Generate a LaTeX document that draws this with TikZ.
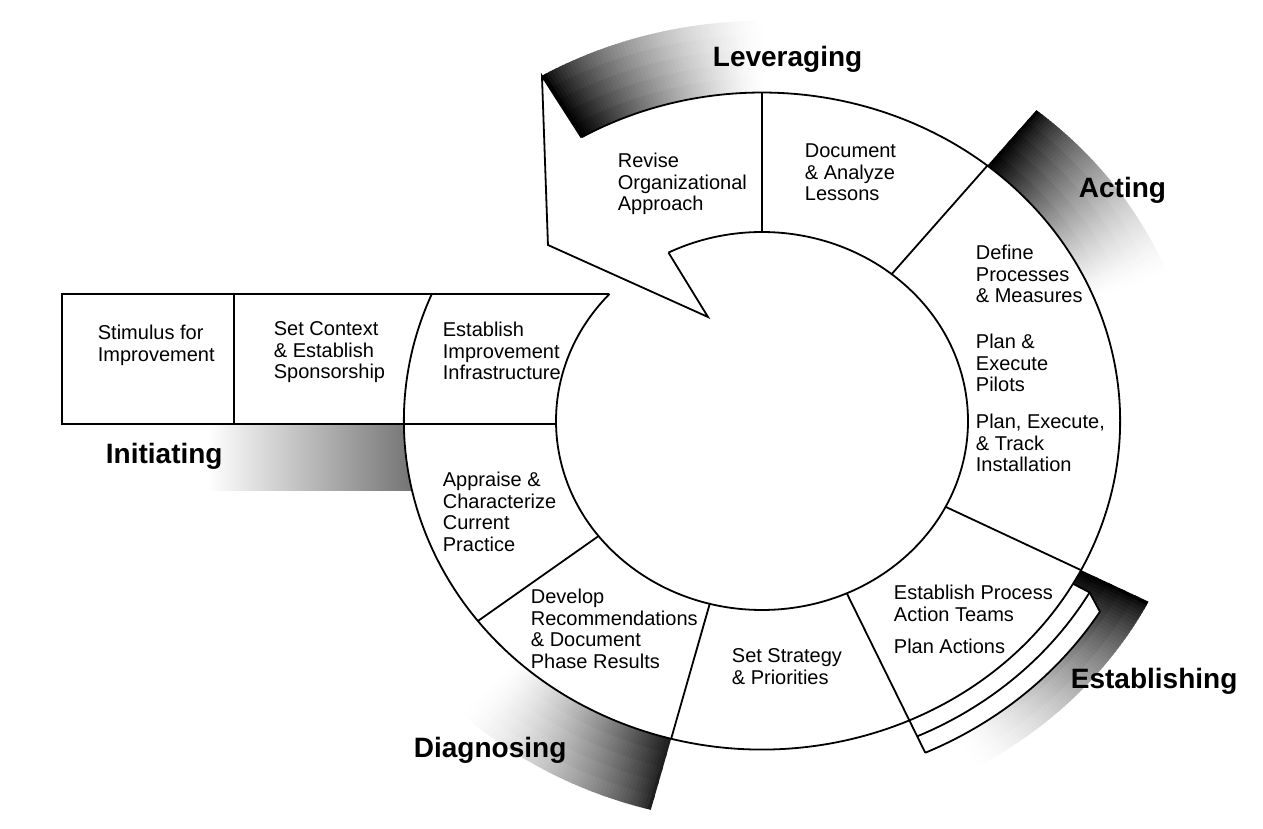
\documentclass[tikz,border=0pt]{standalone}
\usepackage{fontspec}
\setmainfont{Liberation Sans}
\newcommand{\txstrut}{\rule{0pt}{16pt}}
\newcommand{\gradband}[5]{%
  \foreach \gbI in {0,...,59}{%
    \foreach \gbJ in {0,...,4}{%
      \pgfmathsetmacro{\gbA}{(#1)+((#2)-(#1))*\gbI/60}%
      \pgfmathsetmacro{\gbB}{(#1)+((#2)-(#1))*(\gbI+1.4)/60}%
      \pgfmathsetmacro{\gbR}{(#3)+((#4)-(#3))*\gbJ/5}%
      \pgfmathsetmacro{\gbS}{min((#4),(#3)+((#4)-(#3))*(\gbJ+1.3)/5)}%
      \pgfmathsetmacro{\gbP}{(#5)*(1-\gbI/60)^1.4*(1-0.35*(\gbJ/4)*sqrt(\gbI/60))}%
      \fill[black!\gbP] (\gbA:\gbR) arc[start angle=\gbA, end angle=\gbB, radius=\gbR] -- (\gbB:\gbS) arc[start angle=\gbB, end angle=\gbA, radius=\gbS] -- cycle;
    }}}
\begin{document}
\begin{tikzpicture}[x=1pt,y=-1pt,line width=1.8pt,
  txt/.style={anchor=north west,inner sep=0pt,align=left,font=\fontsize{20}{21.5}\selectfont},
  phase/.style={anchor=base west,inner sep=0pt,font=\fontsize{28}{30}\selectfont\bfseries}]
\fill[white] (0,0) rectangle (1263,829);
\useasboundingbox (0,0) rectangle (1263,829);
\coordinate (tailtop) at (542,76);
\coordinate (tailbot) at (548,245);
\coordinate (notch) at (708,317);
% Initiating gradient
\shade[left color=white,right color=black!58] (208,424) rectangle (425,490);
\begin{scope}[shift={(762,421)},xscale=1.09,yscale=-1]
  \gradband{120.3}{90}{328.5}{400}{100}
  \gradband{51}{22}{328.5}{400}{100}
  \gradband{-27}{-60}{328.5}{398}{100}
  \gradband{-104.7}{-133}{328.5}{402}{88}
  \fill[white] (0,0) circle[radius=328.5];
  % Establishing strips
  \fill[white] (-65.7:328.5) -- (-65.7:364) arc[start angle=-65.7,end angle=-31.6,radius=364] -- (-29.7:346) -- (-29.7:328.5) arc[start angle=-29.7,end angle=-65.7,radius=328.5] -- cycle;
  \draw (-65.7:346) arc[start angle=-65.7,end angle=-29.7,radius=346] -- (-29.7:328.5);
  \draw (-65.7:364) arc[start angle=-65.7,end angle=-31.6,radius=364] -- (-29.7:346);
  % ring
  \draw (157.26:328.5) arc[start angle=157.26,end angle=480.3,radius=328.5];
  \draw (137.8:189) arc[start angle=137.8,end angle=477,radius=189];
  \foreach \d in {90,51,-27,-104.7,-142.5} \draw (\d:189) -- (\d:328.5);
  \draw (-65.7:189) -- (-65.7:364);
  % Leveraging arrow
  \draw (120.3:328.5) -- (tailtop) -- (tailbot) -- (notch) -- (117:189);
  \coordinate (boxTR) at (137.8:189);
  \coordinate (boxBR) at (180.9:189);
\end{scope}
% Initiating box
\draw (boxTR) -- (62,294) -- (62,424) -- (boxBR);
\draw (234,294) -- (234,424);
% step texts
\node[txt] (stim) at (97,323) {\txstrut Stimulus for\\Improvement};
\node[txt] (ctx) at (273,319) {\txstrut Set Context\\\& Establish\\Sponsorship};
\node[txt] (infra) at (442,320) {\txstrut Establish\\Improvement\\Infrastructure};
\node[txt] (appr) at (442,470) {\txstrut Appraise \&\\Characterize\\Current\\Practice};
\node[txt] (devel) at (530,587) {\txstrut Develop\\Recommendations\\\& Document\\Phase Results};
\node[txt] (strat) at (731,646) {\txstrut Set Strategy\\\& Priorities};
\node[txt] (pat) at (893,583) {\txstrut Establish Process\\Action Teams};
\node[txt] (pact) at (893,637) {\txstrut Plan Actions};
\node[txt] (defn) at (975,243) {\txstrut Define\\Processes\\\& Measures};
\node[txt] (pilot) at (975,332) {\txstrut Plan \&\\Execute\\Pilots};
\node[txt] (inst) at (975,412) {\txstrut Plan, Execute,\\\& Track\\Installation};
\node[txt] (revise) at (617,151) {\txstrut Revise\\Organizational\\Approach};
\node[txt] (docu) at (804,141) {\txstrut Document\\\& Analyze\\Lessons};
% phase labels
\node[phase] (lev) at (712,67) {Leveraging};
\node[phase] (act) at (1078,197) {Acting};
\node[phase] (est) at (1070,688) {Establishing};
\node[phase] (diag) at (413,757) {Diagnosing};
\node[phase] (init) at (105,463) {Initiating};
\end{tikzpicture}
\end{document}
